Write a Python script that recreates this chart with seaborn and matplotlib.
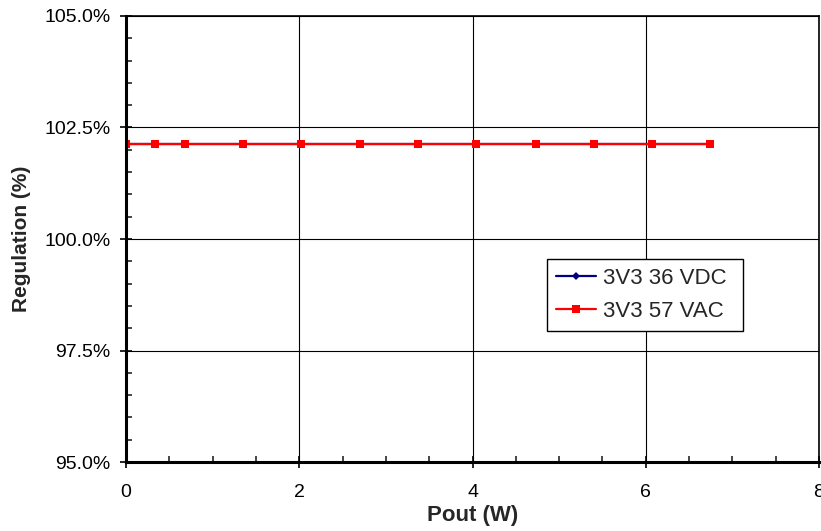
import matplotlib
matplotlib.use("Agg")
import matplotlib.pyplot as plt
import pandas as pd
import seaborn as sns
from matplotlib.ticker import MultipleLocator, PercentFormatter

# Data
pout_w = [0.0, 0.335, 0.68, 1.35, 2.02, 2.70, 3.37, 4.04, 4.73, 5.40, 6.07, 6.74]
reg_36vdc = [102.13] * len(pout_w)
reg_57vac = [102.13] * len(pout_w)
series_names = ["3V3 36 VDC", "3V3 57 VAC"]

df = pd.DataFrame({
    "Pout": pout_w * 2,
    "Regulation": reg_36vdc + reg_57vac,
    "series": [series_names[0]] * len(pout_w) + [series_names[1]] * len(pout_w),
})

sns.set_style("white")
plt.rcParams['font.family'] = ['Liberation Sans', 'DejaVu Sans']

fig = plt.figure(figsize=(8.21, 5.31), dpi=100)
ax = fig.add_axes([0.1535, 0.1299, 0.8441, 0.84])

sns.lineplot(data=df, x="Pout", y="Regulation", hue="series", style="series",
             palette={series_names[0]: "#000080", series_names[1]: "#ff0000"},
             markers={series_names[0]: "D", series_names[1]: "s"},
             dashes=False, markersize=6, markeredgewidth=0, linewidth=1.6,
             ax=ax)
# the diamond is smaller in the original
for line in ax.get_lines():
    if line.get_marker() == "D":
        line.set_markersize(4.5)

ax.set_xlim(0, 8)
ax.set_ylim(95, 105)
ax.xaxis.set_major_locator(MultipleLocator(2))
ax.xaxis.set_minor_locator(MultipleLocator(0.5))
ax.yaxis.set_major_locator(MultipleLocator(2.5))
ax.yaxis.set_minor_locator(MultipleLocator(0.5))
ax.yaxis.set_major_formatter(PercentFormatter(decimals=1))

ax.grid(True, which="major", color="black", linewidth=0.8)
ax.tick_params(which="major", direction="inout", length=8, width=1.2,
               labelsize=14, colors="black", bottom=True, left=True)
ax.tick_params(which="minor", direction="in", length=4, width=1.2,
               bottom=True, left=True)
ax.tick_params(axis="x", pad=12)
ax.tick_params(axis="y", pad=7)

for side in ["left", "bottom"]:
    ax.spines[side].set_linewidth(2.2)
    ax.spines[side].set_color("black")
for side in ["top", "right"]:
    ax.spines[side].set_linewidth(1.2)
    ax.spines[side].set_color("black")

ax.set_xlabel("Pout (W)", fontsize=16, fontweight="bold", labelpad=3)
ax.set_ylabel("Regulation (%)", fontsize=15, fontweight="bold", labelpad=9.5)

leg = ax.legend(loc="upper left", bbox_to_anchor=(0.6075, 0.455, 0.2835, 0),
                mode="expand", fontsize=16, frameon=True, fancybox=False,
                handlelength=1.8, handletextpad=0.32, borderaxespad=0,
                borderpad=0.4, labelspacing=0.55)
leg.get_frame().set_edgecolor("black")
leg.get_frame().set_linewidth(1.0)
leg.get_frame().set_alpha(1)

fig.savefig("out.png", dpi=100)
